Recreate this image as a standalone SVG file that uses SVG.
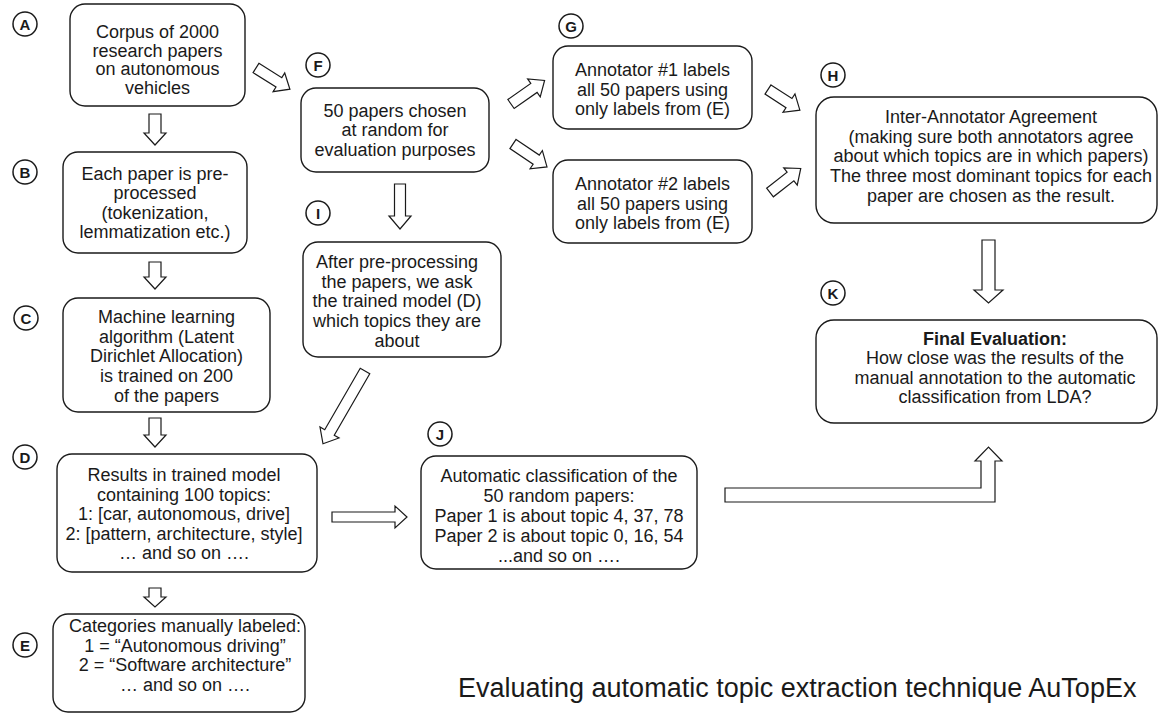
<svg xmlns="http://www.w3.org/2000/svg" width="1159" height="715" viewBox="0 0 1159 715">
<style>
.box{fill:#fff;stroke:#1a1a1a;stroke-width:1.4}
.t{font-family:"Liberation Sans",Arial,sans-serif;font-size:18px;fill:#1a1a1a;text-anchor:middle}
.b{font-weight:bold}
.lc{fill:#fff;stroke:#1a1a1a;stroke-width:1.5}
.lt{font-family:"Liberation Sans",Arial,sans-serif;font-size:15px;font-weight:bold;fill:#1a1a1a;text-anchor:middle}
.ar{fill:#fff;stroke:#1a1a1a;stroke-width:1.2;stroke-linejoin:miter}
.title{font-family:"Liberation Sans",Arial,sans-serif;font-size:27px;fill:#1a1a1a}
</style>
<rect width="1159" height="715" fill="#fff"/>
<g id="connectors">
<polygon class="ar" transform="translate(155,114) rotate(90)" points="0,-6 19,-6 19,-11 31,0 19,11 19,6 0,6"/>
<polygon class="ar" transform="translate(155,262) rotate(90)" points="0,-6 15,-6 15,-11 27,0 15,11 15,6 0,6"/>
<polygon class="ar" transform="translate(155,418) rotate(90)" points="0,-6 17,-6 17,-11 29,0 17,11 17,6 0,6"/>
<polygon class="ar" transform="translate(155,588) rotate(90)" points="0,-6 9,-6 9,-11 19,0 9,11 9,6 0,6"/>
<polygon class="ar" transform="translate(400,184) rotate(90)" points="0,-5.5 32,-5.5 32,-11 45,0 32,11 32,5.5 0,5.5"/>
<polygon class="ar" transform="translate(988.5,240) rotate(90)" points="0,-6.5 50,-6.5 50,-14.5 63,0 50,14.5 50,6.5 0,6.5"/>
<polygon class="ar" transform="translate(332,517)" points="0,-5 63,-5 63,-11 75,0 63,11 63,5 0,5"/>
<polygon class="ar" transform="translate(256,68) rotate(32)" points="0,-5.5 27,-5.5 27,-11 40,0 27,11 27,5.5 0,5.5"/>
<polygon class="ar" transform="translate(511,104) rotate(-35)" points="0,-5.5 28,-5.5 28,-11 41,0 28,11 28,5.5 0,5.5"/>
<polygon class="ar" transform="translate(513,144) rotate(34)" points="0,-5.5 28,-5.5 28,-11 41,0 28,11 28,5.5 0,5.5"/>
<polygon class="ar" transform="translate(768,89.5) rotate(33)" points="0,-5.5 25,-5.5 25,-11 38,0 25,11 25,5.5 0,5.5"/>
<polygon class="ar" transform="translate(770,192.5) rotate(-38)" points="0,-5.5 26,-5.5 26,-11 39,0 26,11 26,5.5 0,5.5"/>
<polygon class="ar" transform="translate(365,371) rotate(120)" points="0,-5.5 71,-5.5 71,-11 84,0 71,11 71,5.5 0,5.5"/>
<polygon class="ar" points="725,488 981,488 981,461 975,461 988.5,447 1002,461 995,461 995,502 725,502"/>
</g>
<g id="A">
<circle class="lc" cx="25" cy="24" r="12"/><text class="lt" x="25" y="29.5">A</text>
<rect class="box" x="70" y="4" width="175" height="102" rx="15"/>
<text class="t" x="157.5" y="38">Corpus of 2000</text>
<text class="t" x="157.5" y="56.7">research papers</text>
<text class="t" x="157.5" y="75.3">on autonomous</text>
<text class="t" x="157.5" y="94">vehicles</text>
</g>
<g id="B">
<circle class="lc" cx="25" cy="172" r="12"/><text class="lt" x="25" y="177.5">B</text>
<rect class="box" x="63" y="152" width="184" height="101" rx="15"/>
<text class="t" x="155" y="180">Each paper is pre-</text>
<text class="t" x="155" y="199.3">processed</text>
<text class="t" x="155" y="218.6">(tokenization,</text>
<text class="t" x="155" y="238">lemmatization etc.)</text>
</g>
<g id="C">
<circle class="lc" cx="26" cy="318" r="12"/><text class="lt" x="26" y="323.5">C</text>
<rect class="box" x="63" y="298" width="207" height="114" rx="15"/>
<text class="t" x="166.5" y="323">Machine learning</text>
<text class="t" x="166.5" y="342.7">algorithm (Latent</text>
<text class="t" x="166.5" y="362.4">Dirichlet Allocation)</text>
<text class="t" x="166.5" y="382.1">is trained on 200</text>
<text class="t" x="166.5" y="401.8">of the papers</text>
</g>
<g id="D">
<circle class="lc" cx="25" cy="457" r="12"/><text class="lt" x="25" y="462.5">D</text>
<rect class="box" x="57" y="454" width="260" height="118" rx="15"/>
<text class="t" x="184" y="481">Results in trained model</text>
<text class="t" x="184" y="500.5">containing 100 topics:</text>
<text class="t" x="184" y="520">1: [car, autonomous, drive]</text>
<text class="t" x="184" y="539.5">2: [pattern, architecture, style]</text>
<text class="t" x="184" y="559">… and so on ….</text>
</g>
<g id="E">
<circle class="lc" cx="25" cy="645" r="12"/><text class="lt" x="25" y="650.5">E</text>
<rect class="box" x="53" y="614" width="252" height="98" rx="15"/>
<text class="t" x="185" y="632">Categories manually labeled:</text>
<text class="t" x="185" y="651.5">1 = “Autonomous driving”</text>
<text class="t" x="185" y="671">2 = “Software architecture”</text>
<text class="t" x="185" y="690.5">… and so on ….</text>
</g>
<g id="F">
<circle class="lc" cx="318" cy="65" r="12"/><text class="lt" x="318" y="70.5">F</text>
<rect class="box" x="301" y="88" width="188" height="84" rx="15"/>
<text class="t" x="395" y="116.5">50 papers chosen</text>
<text class="t" x="395" y="136">at random for</text>
<text class="t" x="395" y="155.5">evaluation purposes</text>
</g>
<g id="G">
<circle class="lc" cx="571" cy="26" r="12"/><text class="lt" x="571" y="31.5">G</text>
<rect class="box" x="553" y="46" width="199" height="83" rx="15"/>
<text class="t" x="652.5" y="76">Annotator #1 labels</text>
<text class="t" x="652.5" y="95.5">all 50 papers using</text>
<text class="t" x="652.5" y="115">only labels from (E)</text>
</g>
<g id="G2">
<rect class="box" x="553" y="160" width="199" height="83" rx="15"/>
<text class="t" x="652.5" y="190">Annotator #2 labels</text>
<text class="t" x="652.5" y="209.5">all 50 papers using</text>
<text class="t" x="652.5" y="229">only labels from (E)</text>
</g>
<g id="H">
<circle class="lc" cx="833" cy="75" r="12"/><text class="lt" x="833" y="80.5">H</text>
<rect class="box" x="816" y="97" width="341" height="126" rx="18"/>
<text class="t" x="991" y="123">Inter-Annotator Agreement</text>
<text class="t" x="991" y="142.7">(making sure both annotators agree</text>
<text class="t" x="991" y="162.4">about which topics are in which papers)</text>
<text class="t" x="991" y="182.1">The three most dominant topics for each</text>
<text class="t" x="991" y="201.8">paper are chosen as the result.</text>
</g>
<g id="I">
<circle class="lc" cx="318" cy="213" r="12"/><text class="lt" x="318" y="218.5">I</text>
<rect class="box" x="303" y="242" width="198" height="115" rx="15"/>
<text class="t" x="397" y="268">After pre-processing</text>
<text class="t" x="397" y="287.7">the papers, we ask</text>
<text class="t" x="397" y="307.4">the trained model (D)</text>
<text class="t" x="397" y="327.1">which topics they are</text>
<text class="t" x="397" y="346.8">about</text>
</g>
<g id="J">
<circle class="lc" cx="440" cy="434" r="12"/><text class="lt" x="440" y="439.5">J</text>
<rect class="box" x="421" y="456" width="276" height="113" rx="15"/>
<text class="t" x="559" y="482">Automatic classification of the</text>
<text class="t" x="559" y="502">50 random papers:</text>
<text class="t" x="559" y="522">Paper 1 is about topic 4, 37, 78</text>
<text class="t" x="559" y="542">Paper 2 is about topic 0, 16, 54</text>
<text class="t" x="559" y="562">...and so on ….</text>
</g>
<g id="K">
<circle class="lc" cx="833" cy="293" r="12"/><text class="lt" x="833" y="298.5">K</text>
<rect class="box" x="816" y="320" width="341" height="103" rx="18"/>
<text class="t b" x="995" y="345">Final Evaluation:</text>
<text class="t" x="995" y="364">How close was the results of the</text>
<text class="t" x="995" y="383.5">manual annotation to the automatic</text>
<text class="t" x="995" y="403">classification from LDA?</text>
</g>
<text class="title" x="458" y="697">Evaluating automatic topic extraction technique AuTopEx</text>
</svg>
